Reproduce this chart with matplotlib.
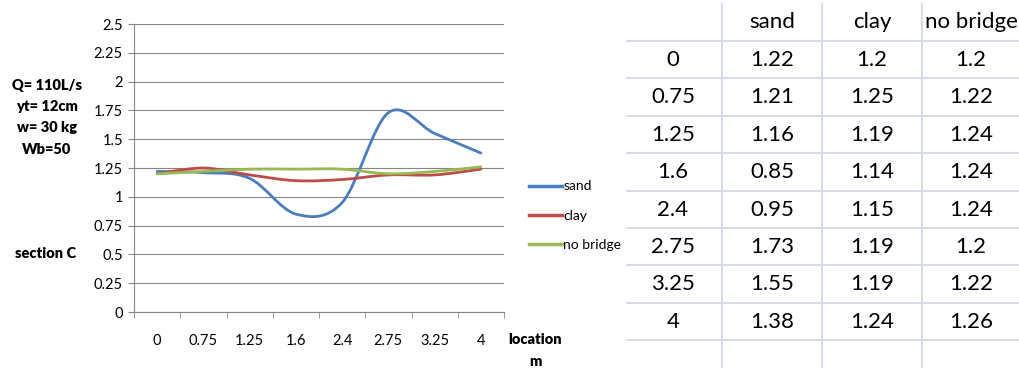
import matplotlib.pyplot as plt
import numpy as np
from matplotlib.path import Path
from matplotlib.patches import PathPatch
from matplotlib.lines import Line2D

# data
locations = ['0', '0.75', '1.25', '1.6', '2.4', '2.75', '3.25', '4']
sand = [1.22, 1.21, 1.16, 0.85, 0.95, 1.73, 1.55, 1.38]
clay = [1.2, 1.25, 1.19, 1.14, 1.15, 1.19, 1.19, 1.24]
no_bridge = [1.2, 1.22, 1.24, 1.24, 1.24, 1.2, 1.22, 1.26]
series_names = ['sand', 'clay', 'no bridge']
colors = ['#4A7EBB', '#BE4B48', '#98B954']

plt.rcParams['font.family'] = ['Lato', 'DejaVu Sans']

fig = plt.figure(figsize=(10.19, 3.68), dpi=100)
ax = fig.add_axes([134 / 1019, 56 / 368, 370 / 1019, 288 / 368])


def smooth_path(xs, ys):
    # Excel-style smoothed line: cubic Bezier through every point
    pts = np.column_stack([xs, ys]).astype(float)
    ext = np.vstack([pts[0], pts, pts[-1]])
    verts = [pts[0]]
    codes = [Path.MOVETO]
    for i in range(len(pts) - 1):
        p0, p1, p2, p3 = ext[i], ext[i + 1], ext[i + 2], ext[i + 3]
        verts += [p1 + (p2 - p0) / 6, p2 - (p3 - p1) / 6, p2]
        codes += [Path.CURVE4] * 3
    return Path(verts, codes)


idx = np.arange(len(locations))
handles = []
for vals, name, c in zip([sand, clay, no_bridge], series_names, colors):
    ax.add_patch(PathPatch(smooth_path(idx, vals), facecolor='none',
                           edgecolor=c, lw=2.0, capstyle='round', zorder=3))
    handles.append(Line2D([], [], color=c, lw=2.5))

ax.set_xlim(-0.5, len(locations) - 0.5)
ax.set_ylim(0, 2.5)
ax.set_yticks(np.arange(0, 2.51, 0.25))
ax.set_yticklabels(['0', '0.25', '0.5', '0.75', '1', '1.25', '1.5', '1.75', '2', '2.25', '2.5'])
ax.set_xticks(idx)
ax.set_xticklabels(locations)
ax.set_xticks(np.arange(-0.5, len(locations)), minor=True)
ax.tick_params(axis='x', which='major', length=0, pad=16, labelsize=10.5)
ax.tick_params(axis='x', which='minor', length=4, color='#868686', direction='out')
ax.tick_params(axis='y', length=4, color='#868686', labelsize=10.5, pad=4)
ax.grid(axis='y', color='#868686', lw=0.8)
ax.set_axisbelow(True)
for s in ['top', 'right']:
    ax.spines[s].set_visible(False)
for s in ['left', 'bottom']:
    ax.spines[s].set_color('#868686')
    ax.spines[s].set_linewidth(0.8)

fig.legend(handles, series_names, loc='upper left', bbox_to_anchor=(516 / 1019, 1 - 168 / 368),
           frameon=False, fontsize=10, handlelength=2.4, handletextpad=0.1, labelspacing=1.25)

# side notes
for i, t in enumerate(['Q= 110L/s', 'yt= 12cm', 'w= 30 kg', 'Wb=50']):
    fig.text(47 / 1019, 1 - (85 + 21.5 * i) / 368, t, ha='center', va='center',
             fontsize=10.5, fontweight='heavy')
fig.text(46 / 1019, 1 - 253 / 368, 'section C', ha='center', va='center',
         fontsize=10.5, fontweight='heavy')
fig.text(535 / 1019, 1 - 340 / 368, 'location', ha='center', va='center',
         fontsize=10.5, fontweight='heavy')
fig.text(535 / 1019, 1 - 362 / 368, 'm', ha='center', va='center',
         fontsize=10.5, fontweight='heavy')

# data table
tab = fig.add_axes([620 / 1019, 0, 399 / 1019, 1])
tab.set_xlim(620, 1019)
tab.set_ylim(368, 0)
tab.axis('off')
line_c = '#CFD6E4'
row_lines = [41 + 37.4 * k for k in range(len(locations) + 1)]
for y in row_lines:
    tab.plot([627, 1019], [y, y], color=line_c, lw=1.2)
for x in [722, 822, 922]:
    tab.plot([x, x], [4, 368], color=line_c, lw=1.2)
col_x = [673, 772, 872, 971]
for cx, name in zip(col_x[1:], series_names):
    tab.text(cx, 22, name, ha='center', va='center', fontsize=16)
for r, loc in enumerate(locations):
    cy = 60 + 37.4 * r
    row = [loc, sand[r], clay[r], no_bridge[r]]
    for cx, v in zip(col_x, row):
        tab.text(cx, cy, str(v), ha='center', va='center', fontsize=16)

fig.savefig('out.png', dpi=100)
